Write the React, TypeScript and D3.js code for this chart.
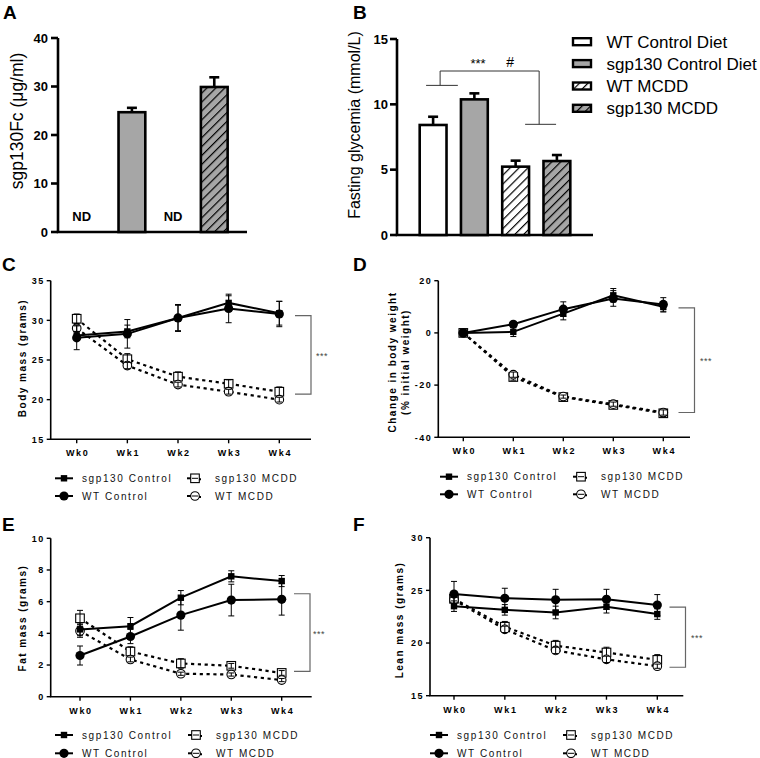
import React from "react";
import * as d3 from "d3";

// ---------- DATA ----------
const groups = ["WT Control Diet", "sgp130 Control Diet", "WT MCDD", "sgp130 MCDD"];
const groupFill = ["#ffffff", "#a6a6a6", "#ffffff", "#a6a6a6"];
const groupHatch = [false, false, true, true];

const serumVals: (number | null)[] = [null, 24.7, null, 29.9];
const serumErr: (number | null)[] = [null, 0.9, null, 2.0];
const serumTicks = [0, 10, 20, 30, 40];

const glycVals = [8.42, 10.38, 5.23, 5.66];
const glycErr = [0.63, 0.46, 0.46, 0.46];
const glycTicks = [0, 5, 10, 15];

const weeks = ["Wk0", "Wk1", "Wk2", "Wk3", "Wk4"];
const seriesNames = ["sgp130 Control", "WT Control", "sgp130 MCDD", "WT MCDD"];

// C: body mass
const bodySgpCtrl = [28.1, 28.6, 30.3, 32.2, 30.9];
const bodySgpCtrlErr = [0.5, 0.8, 1.7, 0.9, 1.5];
const bodyWtCtrl = [27.8, 28.3, 30.3, 31.5, 30.8];
const bodyWtCtrlErr = [1.5, 1.8, 1.6, 1.8, 1.6];
const bodySgpMcdd = [30.2, 25.1, 22.9, 22.0, 21.0];
const bodySgpMcddErr = [0.6, 0.7, 0.6, 0.5, 0.6];
const bodyWtMcdd = [29.0, 24.3, 21.9, 21.0, 20.0];
const bodyWtMcddErr = [0.4, 0.4, 0.3, 0.3, 0.3];
const bodyTicks = [15, 20, 25, 30, 35];
const bodyBracket = [30.6, 20.7];

// D: change in body weight
const chgSgpCtrl = [0, 0.4, 7.4, 14.4, 10.0];
const chgSgpCtrlErr = [0, 1.8, 2.4, 2.6, 2.0];
const chgWtCtrl = [0, 3.3, 9.1, 13.2, 10.9];
const chgWtCtrlErr = [0, 1.0, 2.8, 3.0, 2.6];
const chgSgpMcdd = [0, -16.9, -24.6, -27.6, -30.8];
const chgSgpMcddErr = [0, 1.2, 0.8, 1.0, 1.2];
const chgWtMcdd = [0, -16.0, -24.4, -27.3, -30.5];
const chgWtMcddErr = [0, 1.0, 0.6, 0.8, 1.0];
const chgTicks = [-40, -20, 0, 20];
const chgBracket = [9.6, -30.5];

// E: fat mass
const fatSgpCtrl = [4.25, 4.45, 6.25, 7.6, 7.3];
const fatSgpCtrlErr = [0.4, 0.55, 0.45, 0.35, 0.35];
const fatWtCtrl = [2.6, 3.8, 5.15, 6.1, 6.15];
const fatWtCtrlErr = [0.6, 0.45, 0.95, 1.0, 1.0];
const fatSgpMcdd = [4.95, 2.85, 2.1, 1.95, 1.5];
const fatSgpMcddErr = [0.5, 0.3, 0.3, 0.15, 0.15];
const fatWtMcdd = [4.15, 2.35, 1.45, 1.4, 1.05];
const fatWtMcddErr = [0.4, 0.15, 0.1, 0.1, 0.1];
const fatTicks = [0, 2, 4, 6, 8, 10];
const fatBracket = [6.5, 1.6];

// F: lean mass
const leanSgpCtrl = [23.5, 23.15, 22.9, 23.45, 22.75];
const leanSgpCtrlErr = [0.5, 0.5, 0.6, 0.6, 0.5];
const leanWtCtrl = [24.65, 24.25, 24.1, 24.15, 23.6];
const leanWtCtrlErr = [1.2, 0.95, 1.0, 0.95, 1.0];
const leanSgpMcdd = [24.2, 21.55, 19.75, 19.1, 18.4];
const leanSgpMcddErr = [0.4, 0.5, 0.5, 0.5, 0.5];
const leanWtMcdd = [24.1, 21.3, 19.3, 18.45, 17.8];
const leanWtMcddErr = [0.3, 0.3, 0.3, 0.3, 0.2];
const leanTicks = [15, 20, 25, 30];
const leanBracket = [23.4, 17.7];

const FONT = "'Liberation Sans', Arial, Helvetica, sans-serif";

// ---------- BAR PANELS ----------
function Bar({ x, y0, y1, w, i }: any) {
  return (
    <g>
      <rect x={x} y={y1} width={w} height={y0 - y1} fill={groupFill[i]} stroke="none" />
      {groupHatch[i] && (
        <rect x={x} y={y1} width={w} height={y0 - y1} fill="url(#hatch)" stroke="none" />
      )}
      <rect x={x} y={y1} width={w} height={y0 - y1} fill="none" stroke="#000" strokeWidth={2.6} />
    </g>
  );
}

function PanelA() {
  const ox = 58, yB = 232, yT = 38, xEnd = 247;
  const x = d3.scaleBand().domain(groups).range([ox, xEnd]).paddingInner(0.35).paddingOuter(0.47);
  const y = d3.scaleLinear().domain([0, 40]).range([yB, yT]);
  return (
    <g>
      <text x={3} y={19} fontSize={19} fontWeight="bold" fontFamily={FONT}>A</text>
      <line x1={ox} x2={ox} y1={yB} y2={yT} stroke="#000" strokeWidth={2.6} />
      <line x1={ox - 1.3} x2={xEnd} y1={yB} y2={yB} stroke="#000" strokeWidth={2.6} />
      {serumTicks.map((t) => (
        <g key={t}>
          <line x1={ox - 7} x2={ox} y1={y(t)} y2={y(t)} stroke="#000" strokeWidth={2.6} />
          <text x={ox - 10} y={y(t)} dy="0.36em" textAnchor="end" fontSize={13} fontWeight="bold" fontFamily={FONT}>{t}</text>
        </g>
      ))}
      <text transform={`translate(17,${121}) rotate(-90)`} textAnchor="middle" dominantBaseline="central" fontSize={17.5} fontFamily={FONT}>
        sgp130Fc (μg/ml)
      </text>
      {groups.map((g, i) => {
        const v = serumVals[i];
        const bx = x(g)!;
        const bw = x.bandwidth();
        if (v === null) {
          return (
            <text key={g} x={bx + bw / 2 + (i === 0 ? -9 : 0)} y={221} textAnchor="middle" fontSize={13} fontWeight="bold" fontFamily={FONT}>ND</text>
          );
        }
        const e = serumErr[i]!;
        return (
          <g key={g}>
            <line x1={bx + bw / 2} x2={bx + bw / 2} y1={y(v)} y2={y(v + e)} stroke="#000" strokeWidth={2.6} />
            <line x1={bx + bw / 2 - 5} x2={bx + bw / 2 + 5} y1={y(v + e)} y2={y(v + e)} stroke="#000" strokeWidth={2.6} />
            <Bar x={bx} y0={yB} y1={y(v)} w={bw} i={i} />
          </g>
        );
      })}
    </g>
  );
}

function PanelB() {
  const ox = 397, yB = 235, yT = 39, xEnd = 593;
  const x = d3.scaleBand().domain(groups).range([ox, xEnd]).paddingInner(0.35).paddingOuter(0.55);
  const y = d3.scaleLinear().domain([0, 15]).range([yB, yT]);
  const c0 = x(groups[0])! + x.bandwidth() / 2;
  const st = x.step();
  const xc = (f: number) => c0 + f * st;
  const legY = [41.7, 63.6, 86, 108.3];
  return (
    <g>
      <text x={353} y={19} fontSize={19} fontWeight="bold" fontFamily={FONT}>B</text>
      <line x1={ox} x2={ox} y1={yB} y2={yT} stroke="#000" strokeWidth={2.6} />
      <line x1={ox - 1.3} x2={xEnd} y1={yB} y2={yB} stroke="#000" strokeWidth={2.6} />
      {glycTicks.map((t) => (
        <g key={t}>
          <line x1={ox - 7} x2={ox} y1={y(t)} y2={y(t)} stroke="#000" strokeWidth={2.6} />
          <text x={ox - 9} y={y(t)} dy="0.36em" textAnchor="end" fontSize={13} fontWeight="bold" fontFamily={FONT}>{t}</text>
        </g>
      ))}
      <text transform={`translate(354,${125}) rotate(-90)`} textAnchor="middle" dominantBaseline="central" fontSize={16} fontFamily={FONT}>
        Fasting glycemia (mmol/L)
      </text>
      {groups.map((g, i) => {
        const v = glycVals[i];
        const e = glycErr[i];
        const bx = x(g)!;
        const bw = x.bandwidth();
        return (
          <g key={g}>
            <line x1={bx + bw / 2} x2={bx + bw / 2} y1={y(v)} y2={y(v + e)} stroke="#000" strokeWidth={2.6} />
            <line x1={bx + bw / 2 - 5} x2={bx + bw / 2 + 5} y1={y(v + e)} y2={y(v + e)} stroke="#000" strokeWidth={2.6} />
            <Bar x={bx} y0={yB} y1={y(v)} w={bw} i={i} />
          </g>
        );
      })}
      {/* significance brackets */}
      <g stroke="#333" strokeWidth={1} fill="none">
        <line x1={xc(-0.17)} x2={xc(0.6)} y1={y(11.45)} y2={y(11.45)} />
        <line x1={xc(0.17)} x2={xc(0.17)} y1={y(11.45)} y2={y(12.55)} />
        <line x1={xc(0.17)} x2={xc(2.57)} y1={y(12.55)} y2={y(12.55)} />
        <line x1={xc(2.57)} x2={xc(2.57)} y1={y(12.55)} y2={y(8.47)} />
        <line x1={xc(2.23)} x2={xc(2.98)} y1={y(8.47)} y2={y(8.47)} />
      </g>
      <text x={xc(1.09)} y={y(12.55) - 3} textAnchor="middle" fontSize={13} fontFamily={FONT}>***</text>
      <text x={xc(1.87)} y={y(12.55) - 4} textAnchor="middle" fontSize={14} fontFamily={FONT}>#</text>
      {/* legend */}
      {groups.map((g, i) => (
        <g key={g}>
          <rect x={573} y={legY[i] - 3.5} width={18} height={7} fill={groupFill[i]} />
          {groupHatch[i] && <rect x={573} y={legY[i] - 3.5} width={18} height={7} fill="url(#hatchSmall)" />}
          <rect x={573} y={legY[i] - 3.5} width={18} height={7} fill="none" stroke="#000" strokeWidth={2.4} />
          <text x={606.5} y={legY[i]} dy="0.36em" fontSize={17} fontFamily={FONT}>{g}</text>
        </g>
      ))}
    </g>
  );
}

// ---------- LINE PANELS ----------
type LineCfg = {
  letter: string; letterX: number; letterY: number;
  ox: number; yTop: number; yBot: number; xEnd: number; wk0: number; wk4: number;
  domain: [number, number]; ticks: number[];
  series: number[][]; errs: number[][];
  bracket: number[]; bracketX: number; starsX: number;
  ylabel: string[]; ylabelX: number[]; ylabelY: number;
  legX1: number; legX2: number; legY1: number; legY2: number;
};

function Marker({ kind, cx, cy, legend }: any) {
  if (kind === 0) return <rect x={cx - 3.2} y={cy - 3.2} width={6.4} height={6.4} fill="#000" />;
  if (kind === 1) return <circle cx={cx} cy={cy} r={4.6} fill="#000" />;
  if (kind === 2)
    return <rect x={cx - 4.3} y={cy - 4.3} width={8.6} height={8.6} fill={legend ? "none" : "#fff"} stroke="#000" strokeWidth={1.1} />;
  return <circle cx={cx} cy={cy} r={4.3} fill={legend ? "none" : "#fff"} stroke="#000" strokeWidth={1.1} />;
}

function LinePanel({ c }: { c: LineCfg }) {
  const x = d3.scalePoint().domain(weeks).range([c.wk0, c.wk4]);
  const y = d3.scaleLinear().domain(c.domain).range([c.yBot, c.yTop]);
  const line = d3.line<number>().x((_, i) => x(weeks[i])!).y((d) => y(d));
  const order = [2, 3, 0, 1];
  const legendTxt = { fontSize: 10, fontFamily: FONT, letterSpacing: 1.6, fill: "#111" } as any;
  const legendSym = (k: number, lx: number, ly: number) => {
    const dashed = k >= 2;
    return (
      <g>
        {dashed ? (
          <>
            <line x1={lx} x2={lx + 4} y1={ly} y2={ly} stroke="#000" strokeWidth={2} />
            <line x1={lx + 12} x2={lx + 14} y1={ly + 1} y2={ly + 1} stroke="#000" strokeWidth={2} />
            <Marker kind={k} cx={lx + 8} cy={ly} legend />
            <line x1={lx + 5} x2={lx + 11} y1={ly} y2={ly} stroke="#000" strokeWidth={1} />
          </>
        ) : (
          <>
            <line x1={lx} x2={lx + 18} y1={ly} y2={ly} stroke="#000" strokeWidth={2} />
            <Marker kind={k} cx={lx + 9} cy={ly} />
          </>
        )}
      </g>
    );
  };
  return (
    <g>
      <text x={c.letterX} y={c.letterY} fontSize={19} fontWeight="bold" fontFamily={FONT}>{c.letter}</text>
      <line x1={c.ox} x2={c.ox} y1={c.yBot} y2={c.yTop} stroke="#000" strokeWidth={1.6} />
      <line x1={c.ox - 0.8} x2={c.xEnd} y1={c.yBot} y2={c.yBot} stroke="#000" strokeWidth={1.6} />
      {c.ticks.map((t) => (
        <g key={t}>
          <line x1={c.ox - 4} x2={c.ox} y1={y(t)} y2={y(t)} stroke="#000" strokeWidth={1.4} />
          <text x={c.ox - 6} y={y(t)} dy="0.36em" textAnchor="end" fontSize={9} fontWeight="bold" letterSpacing={1.5} fontFamily={FONT}>{t}</text>
        </g>
      ))}
      {weeks.map((w) => (
        <g key={w}>
          <line x1={x(w)} x2={x(w)} y1={c.yBot} y2={c.yBot + 4} stroke="#000" strokeWidth={1.4} />
          <text x={x(w)! + 1} y={c.yBot + 17} textAnchor="middle" fontSize={9} fontWeight="bold" letterSpacing={1.7} fontFamily={FONT}>{w}</text>
        </g>
      ))}
      {c.ylabel.map((lbl, i) => (
        <text key={i} transform={`translate(${c.ylabelX[i]},${c.ylabelY}) rotate(-90)`} textAnchor="middle" dominantBaseline="central"
          fontSize={10} fontWeight="bold" letterSpacing={1.5} fontFamily={FONT}>{lbl}</text>
      ))}
      {order.map((k) => (
        <g key={k}>
          <path d={line(c.series[k]) || ""} fill="none" stroke="#000" strokeWidth={k >= 2 ? 2.2 : 2}
            strokeDasharray={k >= 2 ? "3.2,3.6" : undefined} />
          {c.series[k].map((v, i) => {
            const cx = x(weeks[i])!;
            const e = c.errs[k][i];
            return (
              <g key={i}>
                <Marker kind={k} cx={cx} cy={y(v)} />
                {e > 0 && (
                  <g stroke="#000" strokeWidth={1}>
                    <line x1={cx} x2={cx} y1={y(v - e)} y2={y(v + e)} />
                    <line x1={cx - 3} x2={cx + 3} y1={y(v + e)} y2={y(v + e)} />
                    <line x1={cx - 3} x2={cx + 3} y1={y(v - e)} y2={y(v - e)} />
                  </g>
                )}
              </g>
            );
          })}
        </g>
      ))}
      <g stroke="#666" strokeWidth={1.2} fill="none">
        <polyline points={`${c.bracketX},${y(c.bracket[0])} ${c.bracketX + 16},${y(c.bracket[0])} ${c.bracketX + 16},${y(c.bracket[1])} ${c.bracketX},${y(c.bracket[1])}`} />
      </g>
      <text x={c.starsX} y={(y(c.bracket[0]) + y(c.bracket[1])) / 2 + 4} fontSize={9} fill="#444" letterSpacing={0.5} fontFamily={FONT}>***</text>
      {/* legend */}
      {legendSym(0, c.legX1, c.legY1)}
      <text x={c.legX1 + 27} y={c.legY1} dy="0.36em" {...legendTxt}>{seriesNames[0]}</text>
      {legendSym(1, c.legX1, c.legY2)}
      <text x={c.legX1 + 27} y={c.legY2} dy="0.36em" {...legendTxt}>{seriesNames[1]}</text>
      {legendSym(2, c.legX2, c.legY1)}
      <text x={c.legX2 + 28} y={c.legY1} dy="0.36em" {...legendTxt}>{seriesNames[2]}</text>
      {legendSym(3, c.legX2, c.legY2)}
      <text x={c.legX2 + 28} y={c.legY2} dy="0.36em" {...legendTxt}>{seriesNames[3]}</text>
    </g>
  );
}

const panelC: LineCfg = {
  letter: "C", letterX: 2, letterY: 271,
  ox: 50.7, yTop: 280.7, yBot: 439.3, xEnd: 311, wk0: 76.7, wk4: 279.3,
  domain: [15, 35], ticks: bodyTicks,
  series: [bodySgpCtrl, bodyWtCtrl, bodySgpMcdd, bodyWtMcdd],
  errs: [bodySgpCtrlErr, bodyWtCtrlErr, bodySgpMcddErr, bodyWtMcddErr],
  bracket: bodyBracket, bracketX: 295, starsX: 316,
  ylabel: ["Body mass (grams)"], ylabelX: [22], ylabelY: 358,
  legX1: 55, legX2: 187, legY1: 478.3, legY2: 496,
};
const panelD: LineCfg = {
  letter: "D", letterX: 353, letterY: 271,
  ox: 438.3, yTop: 280.7, yBot: 437.3, xEnd: 690, wk0: 463.3, wk4: 663.3,
  domain: [-40, 20], ticks: chgTicks,
  series: [chgSgpCtrl, chgWtCtrl, chgSgpMcdd, chgWtMcdd],
  errs: [chgSgpCtrlErr, chgWtCtrlErr, chgSgpMcddErr, chgWtMcddErr],
  bracket: chgBracket, bracketX: 678.5, starsX: 700,
  ylabel: ["Change in body weight", "(% initial weight)"], ylabelX: [392, 405], ylabelY: 362,
  legX1: 440, legX2: 573, legY1: 476.7, legY2: 494.3,
};
const panelE: LineCfg = {
  letter: "E", letterX: 2, letterY: 531,
  ox: 50.7, yTop: 538.3, yBot: 696.7, xEnd: 311.7, wk0: 80, wk4: 281.7,
  domain: [0, 10], ticks: fatTicks,
  series: [fatSgpCtrl, fatWtCtrl, fatSgpMcdd, fatWtMcdd],
  errs: [fatSgpCtrlErr, fatWtCtrlErr, fatSgpMcddErr, fatWtMcddErr],
  bracket: fatBracket, bracketX: 294, starsX: 313,
  ylabel: ["Fat mass (grams)"], ylabelX: [22.5], ylabelY: 618,
  legX1: 55, legX2: 188, legY1: 735, legY2: 753.3,
};
const panelF: LineCfg = {
  letter: "F", letterX: 353, letterY: 531,
  ox: 430, yTop: 537.7, yBot: 695.7, xEnd: 683.3, wk0: 454, wk4: 657.3,
  domain: [15, 30], ticks: leanTicks,
  series: [leanSgpCtrl, leanWtCtrl, leanSgpMcdd, leanWtMcdd],
  errs: [leanSgpCtrlErr, leanWtCtrlErr, leanSgpMcddErr, leanWtMcddErr],
  bracket: leanBracket, bracketX: 669.5, starsX: 691,
  ylabel: ["Lean mass (grams)"], ylabelX: [399], ylabelY: 620,
  legX1: 430, legX2: 563, legY1: 735, legY2: 753.3,
};

export default function App() {
  return (
    <svg width={760} height={758} viewBox="0 0 760 758"
      style={{ position: "absolute", left: 0, top: 0, background: "#fff", display: "block" }}>
      <defs>
        <pattern id="hatch" patternUnits="userSpaceOnUse" width={6.3} height={6.3} patternTransform="rotate(45)">
          <line x1={0} y1={0} x2={0} y2={6.3} stroke="#000" strokeWidth={2.4} />
        </pattern>
        <pattern id="hatchSmall" patternUnits="userSpaceOnUse" width={6} height={6} patternTransform="rotate(45)">
          <line x1={0} y1={0} x2={0} y2={6} stroke="#000" strokeWidth={2.4} />
        </pattern>
      </defs>
      <rect width={760} height={758} fill="#fff" />
      <PanelA />
      <PanelB />
      <LinePanel c={panelC} />
      <LinePanel c={panelD} />
      <LinePanel c={panelE} />
      <LinePanel c={panelF} />
    </svg>
  );
}
